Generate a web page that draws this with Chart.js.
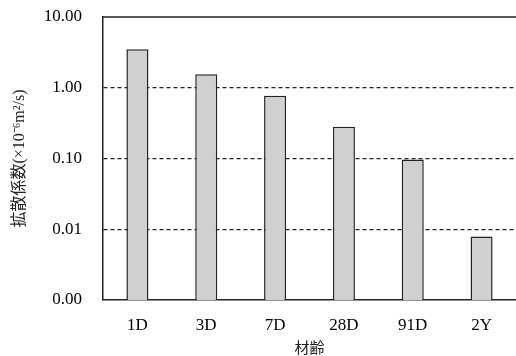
<!DOCTYPE html>
<html>
<head>
<meta charset="utf-8">
<script src="https://cdn.jsdelivr.net/npm/chart.js@4.4.0/dist/chart.umd.min.js"></script>
<style>
  html, body { margin: 0; padding: 0; background: #fff; }
  #wrap { width: 516px; height: 356px; }
</style>
</head>
<body>
<div id="wrap"><canvas id="chart"></canvas></div>
<script>
const ages = ['1D', '3D', '7D', '28D', '91D', '2Y'];
const diffusion = [3.5, 1.55, 0.77, 0.28, 0.097, 0.0079];
const yTicks = [0.001, 0.01, 0.1, 1, 10];

const serif = '"Liberation Serif", "Times New Roman", serif';
const gothic = '"Noto Sans CJK JP", "Noto Sans", sans-serif';
// latin in serif, kanji falls through to the gothic face
const mixed = '"Liberation Serif", "Noto Sans CJK JP", serif';

// closes the plot frame along the top edge
const topFrame = {
    id: 'topFrame',
    afterDraw(chart) {
        const a = chart.chartArea;
        const c = chart.ctx;
        c.save();
        c.strokeStyle = '#222';
        c.lineWidth = 1.5;
        c.beginPath();
        c.moveTo(a.left, a.top);
        c.lineTo(a.right, a.top);
        c.stroke();
        c.restore();
    }
};

const ctx = document.getElementById('chart').getContext('2d');
new Chart(ctx, {
    type: 'bar',
    data: {
        labels: ages,
        datasets: [{
            data: diffusion,
            backgroundColor: '#d0d0d0',
            borderColor: '#222',
            borderWidth: 1.5,
            borderSkipped: 'bottom',
            barPercentage: 0.32,
            categoryPercentage: 1.0
        }]
    },
    plugins: [topFrame],
    options: {
        responsive: true,
        maintainAspectRatio: false,
        animation: false,
        layout: { padding: { top: 17, right: 0, left: 0, bottom: 0 } },
        plugins: {
            legend: { display: false },
            tooltip: { enabled: false }
        },
        scales: {
            x: {
                grid: { display: false },
                border: { color: '#222', width: 1.5 },
                ticks: {
                    color: '#000',
                    font: { family: serif, size: 17 },
                    padding: 7
                },
                title: {
                    display: true,
                    text: '材齢',
                    color: '#222',
                    font: { family: gothic, size: 15 },
                    padding: { top: 0, bottom: 0 }
                },
                afterFit: (axis) => { axis.height = 56; }
            },
            y: {
                type: 'logarithmic',
                min: 0.001,
                max: 10,
                afterBuildTicks: (axis) => {
                    axis.ticks = yTicks.map(v => ({ value: v }));
                },
                grid: {
                    drawTicks: false,
                    color: (c) => (c.tick && (c.tick.value === 10 || c.tick.value === 0.001)) ? 'rgba(0,0,0,0)' : '#222',
                    lineWidth: 1.2
                },
                border: { color: '#222', width: 1.5, dash: [4, 3] },
                ticks: {
                    color: '#000',
                    font: { family: serif, size: 17 },
                    padding: 21,
                    callback: (v) => Number(v).toFixed(2)
                },
                title: {
                    display: true,
                    text: '拡散係数(×10⁻⁶m²/s)',
                    color: '#222',
                    font: { family: mixed, size: 16 },
                    padding: { top: 10, bottom: 0 }
                },
                afterFit: (axis) => {
                    axis.width = 103;
                    axis.paddingTop = 0;
                    axis.paddingBottom = 0;
                }
            }
        }
    }
});
</script>
</body>
</html>
